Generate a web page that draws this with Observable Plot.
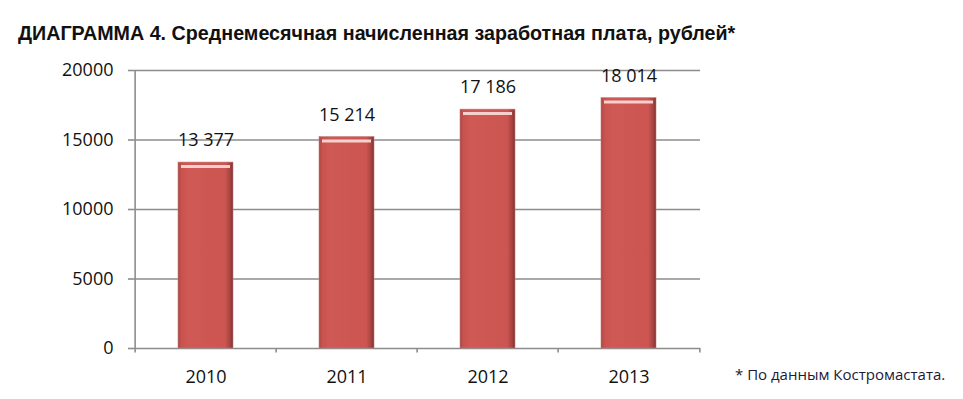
<!DOCTYPE html>
<html><head><meta charset="utf-8">
<script src="https://cdn.jsdelivr.net/npm/d3@7"></script>
<script src="https://cdn.jsdelivr.net/npm/@observablehq/plot@0.6"></script>
<style>
body{margin:0;background:#fff;}
#wrap{position:relative;width:963px;height:399px;overflow:hidden;}
#title{position:absolute;left:18px;top:22px;font-family:"Liberation Sans Narrow","Liberation Sans",Arial,sans-serif;font-weight:bold;font-size:19.7px;color:#111;white-space:nowrap;}
#chart{position:absolute;left:0;top:55px;}
#chart svg text{font-size:18px;}
#note{position:absolute;left:735px;top:364px;font-family:"Open Sans","Noto Sans",sans-serif;font-size:15px;color:#1a1a3a;white-space:nowrap;}
</style></head>
<body><div id="wrap">
<div id="title">ДИАГРАММА 4. Среднемесячная начисленная заработная плата, рублей*</div>
<div id="chart"></div>
<div id="note">* По данным Костромастата.</div>
</div>
<script>
const years = ["2010","2011","2012","2013"];
const wages = [13377, 15214, 17186, 18014];
const yTicks = [0, 5000, 10000, 15000, 20000];

const data = years.map((y,i)=>({year:y, value:wages[i]}));
const fmt = d3.formatLocale({decimal:",", thousands:" ", grouping:[3], currency:["",""]}).format(",d");
const band = (700-133)/years.length;
const font = "'Open Sans','Noto Sans',sans-serif";

const plot = Plot.plot({
  width: 963, height: 344,
  marginLeft: 133, marginRight: 263, marginTop: 15, marginBottom: 51,
  style: {fontFamily: font, fontSize: "18px", color: "#111", background: "transparent"},
  x: {domain: years, paddingInner: 0.61, paddingOuter: 0.305, align: 0.5, label: null},
  y: {domain: [0, 20000], label: null},
  marks: [
    Plot.ruleY(yTicks, {stroke: "#8c8c8c", strokeWidth: 1.6}),
    Plot.axisY(yTicks, {tickSize: 5, stroke: "#8c8c8c", strokeWidth: 1.6, tickPadding: 15, fontSize: 18, tickFormat: d=>String(d), label: null}),
    Plot.axisX({tickSize: 0, tickPadding: 22, fontSize: 18, label: null}),
    Plot.ruleX([years[0]], {x: d=>d, dx: -band/2, y1: 0, y2: 20000, stroke: "#8c8c8c", strokeWidth: 1.6}),
    Plot.ruleX(years, {x: d=>d, dx: -band/2, y1: 0, y2: -320, stroke: "#8c8c8c", strokeWidth: 1.6, clip: false}),
    Plot.ruleX([years[years.length-1]], {x: d=>d, dx: band/2, y1: 0, y2: -320, stroke: "#8c8c8c", strokeWidth: 1.6}),
    Plot.barY(data, {x: "year", y: "value", fill: "url(#barGrad)", stroke: "#c0817e", strokeWidth: 0.6}),
    Plot.tickY(data, {x: "year", y: "value", dy: 4, stroke: "#f7d0cd", strokeWidth: 3, inset: 3}),
    Plot.text(data, {x: "year", y: "value", text: d=>fmt(d.value), dy: -22, fontSize: 18, fill: "#111"})
  ]
});
const ns = "http://www.w3.org/2000/svg";
const defs = document.createElementNS(ns, "defs");
defs.innerHTML = `<linearGradient id="barGrad" x1="0" x2="1" y1="0" y2="0">
<stop offset="0" stop-color="#a84845"/><stop offset="0.06" stop-color="#c9524f"/>
<stop offset="0.2" stop-color="#cf5955"/><stop offset="0.86" stop-color="#cc5551"/>
<stop offset="0.95" stop-color="#a4433f"/><stop offset="1" stop-color="#7e302d"/></linearGradient>`;
plot.insertBefore(defs, plot.firstChild);
document.getElementById("chart").appendChild(plot);
</script>
</body></html>
